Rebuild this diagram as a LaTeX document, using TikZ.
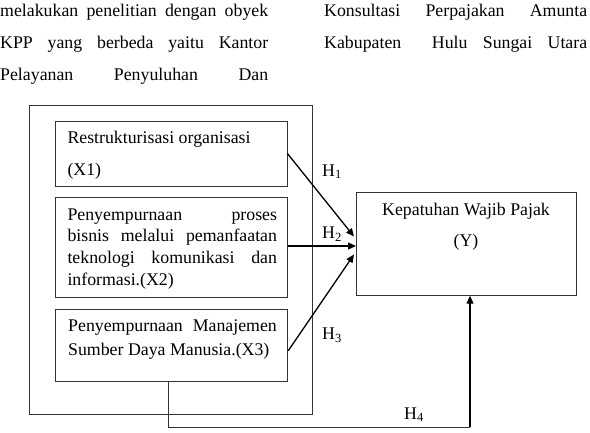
\documentclass[tikz,border=0pt]{standalone}
\usepackage{fontspec}
\setmainfont{Liberation Serif}
\usetikzlibrary{arrows.meta,calc}
\begin{document}
\begin{tikzpicture}[x=1pt,y=-1pt,
  txt/.style={inner sep=0pt, anchor=base west, font=\fontsize{17.8}{20}\selectfont},
  boxshape/.style={draw=black!80, line width=1pt, inner sep=0pt, anchor=north west},
  conn/.style={line width=1.3pt, -{Triangle[length=8pt,width=7pt]}},
  lbl/.style={inner sep=0pt, anchor=base west, font=\fontsize{17.8}{20}\selectfont}]
\useasboundingbox (0,0) rectangle (590,432);
% paragraph text at top
\node[txt] (p1) at (0,16.7) {\makebox[268pt][s]{melakukan penelitian dengan obyek}};
\node[txt] (p2) at (0,48.3) {\makebox[268pt][s]{KPP yang berbeda yaitu Kantor}};
\node[txt] (p3) at (0,80) {\makebox[268pt][s]{Pelayanan Penyuluhan Dan}};
\node[txt] (q1) at (324,16.7) {\makebox[263pt][s]{Konsultasi Perpajakan Amunta}};
\node[txt] (q2) at (324,48.3) {\makebox[263pt][s]{Kabupaten \ Hulu Sungai Utara}};
% boxes
\node[boxshape, minimum width=282.7pt, minimum height=309pt] (outer) at (29.3,105) {};
\node[boxshape, minimum width=231.5pt, minimum height=64.8pt] (b1) at (55,120.7) {};
\node[boxshape, minimum width=231.7pt, minimum height=100.8pt] (b2) at (55,196.5) {};
\node[boxshape, minimum width=232.3pt, minimum height=71.7pt] (b3) at (55,309.3) {};
\node[boxshape, minimum width=220pt, minimum height=102.4pt] (Y) at (356,192.3) {};
% box texts
\node[txt] (t1a) at (67.3,143.3) {Restrukturisasi organisasi};
\node[txt] (t1b) at (67.3,175) {(X1)};
\node[txt] (t2a) at (67.3,220) {\makebox[209.5pt][s]{Penyempurnaan proses}};
\node[txt] (t2b) at (67.3,241.7) {\makebox[209.5pt][s]{bisnis melalui pemanfaatan}};
\node[txt] (t2c) at (67.3,263.3) {\makebox[209.5pt][s]{teknologi komunikasi dan}};
\node[txt] (t2d) at (67.3,285.5) {informasi.(X2)};
\node[txt] (t3a) at (68,331.7) {\makebox[208.6pt][s]{Penyempurnaan Manajemen}};
\node[txt] (t3b) at (68,355) {Sumber Daya Manusia.(X3)};
\node[txt, anchor=base] (ya) at (466,215) {Kepatuhan Wajib Pajak};
\node[txt, anchor=base] (yb) at (466,246) {(Y)};
% labels
\node[lbl] (h1) at (322,176) {H\textsubscript{1}};
\node[lbl] (h2) at (322,238.7) {H\textsubscript{2}};
\node[lbl] (h3) at (322,339.5) {H\textsubscript{3}};
\node[lbl] (h4) at (404,419) {H\textsubscript{4}};
% connectors
\draw[conn] (b1.east) -- ($(Y.west)+(-2,-7.5)$);
\draw[conn] (b2.east |- 0,246) -- (Y.west |- 0,246);
\draw[conn] ($(b3.east)+(0,5)$) -- ($(Y.west)+(-2,10.5)$);
\coordinate (h4a) at (168.3,427.3);
\coordinate (h4b) at (470,427.3);
\draw[line width=1pt, draw=black!80] (b3.south -| h4a) -- (h4a) -- (h4b);
\draw[conn] (h4b) -- (h4b |- Y.south);
\end{tikzpicture}
\end{document}
